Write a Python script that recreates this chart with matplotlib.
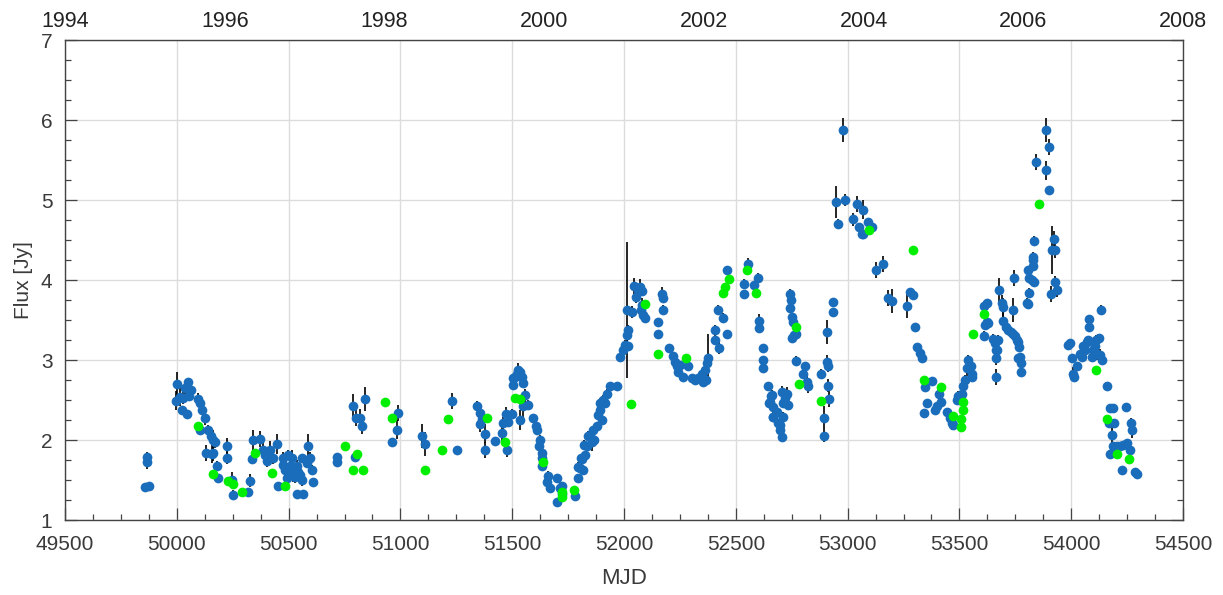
import matplotlib
matplotlib.use("Agg")
import matplotlib.pyplot as plt
from matplotlib.ticker import MultipleLocator
import numpy as np

plt.rcParams['font.family'] = ['Liberation Sans', 'DejaVu Sans']

# blue points: MJD, flux [Jy], error
blue_mjd = [49858, 49877, 49865, 49865,
    49998, 50000, 50014, 50022, 50029, 50037, 50047, 50051, 50056, 50062,
    50096, 50104, 50104, 50111, 50126, 50131, 50141, 50152, 50156, 50163,
    50163, 50171, 50178, 50186, 50223, 50223, 50245, 50253, 50320, 50327,
    50335, 50342, 50372, 50387, 50395, 50402, 50417, 50432, 50447, 50454,
    50474, 50474, 50484, 50492, 50499, 50506, 50514, 50521, 50529, 50536,
    50536, 50543, 50551, 50559, 50559, 50566, 50581, 50588, 50596, 50603,
    50610, 50715, 50715, 50789, 50797, 50801, 50819, 50827, 50842, 50961,
    50983, 50991, 51095, 51110, 51229, 51252, 51341, 51356, 51363, 51356,
    51378, 51378, 51423, 51453, 51460, 51472, 51475, 51483, 51498, 51502,
    51505, 51513, 51520, 51527, 51535, 51542, 51550, 51535, 51547, 51557,
    51572, 51594, 51606, 51612, 51621, 51624, 51632, 51632, 51632, 51654,
    51661, 51669, 51699, 51699, 51714, 51721, 51721, 51781, 51796, 51796,
    51803, 51806, 51811, 51815, 51821, 51826, 51833, 51840, 51848, 51855,
    51860, 51866, 51878, 51885, 51893, 51893, 51900, 51900, 51907, 51915,
    51922, 51937, 51967, 51982, 51994, 52004, 52012, 52012, 52019, 52019,
    52034, 52046, 52053, 52064, 52072, 52075, 52079, 52079, 52086, 52094,
    52153, 52153, 52168, 52173, 52176, 52202, 52220, 52228, 52235, 52243,
    52250, 52265, 52288, 52302, 52317, 52332, 52347, 52354, 52362, 52367,
    52369, 52377, 52405, 52408, 52420, 52423, 52441, 52461, 52461, 52537,
    52537, 52556, 52581, 52601, 52605, 52605, 52620, 52620, 52623, 52645,
    52650, 52653, 52656, 52660, 52665, 52668, 52668, 52683, 52690, 52698,
    52698, 52705, 52705, 52712, 52712, 52720, 52727, 52735, 52742, 52745,
    52742, 52750, 52750, 52757, 52760, 52769, 52769, 52799, 52809, 52817,
    52824, 52880, 52894, 52894, 52906, 52909, 52911, 52914, 52918, 52933,
    52936, 52948, 52958, 52978, 52988, 53023, 53043, 53052, 53063, 53067,
    53070, 53093, 53108, 53127, 53157, 53182, 53197, 53267, 53279, 53291,
    53301, 53312, 53324, 53331, 53342, 53346, 53356, 53376, 53391, 53401,
    53410, 53416, 53443, 53458, 53465, 53473, 53488, 53495, 53510, 53518,
    53525, 53532, 53540, 53550, 53555, 53555, 53610, 53610, 53614, 53622,
    53625, 53629, 53652, 53659, 53664, 53664, 53664, 53669, 53674, 53678,
    53689, 53693, 53693, 53708, 53719, 53729, 53738, 53738, 53744, 53748,
    53756, 53763, 53763, 53768, 53771, 53774, 53774, 53804, 53808, 53808,
    53813, 53813, 53823, 53828, 53828, 53828, 53834, 53835, 53843, 53887,
    53887, 53902, 53902, 53908, 53913, 53923, 53928, 53928, 53938,
    53987, 53995, 54002, 54007, 54013, 54025, 54039, 54047, 54054, 54062,
    54069, 54077, 54081, 54081, 54092, 54099, 54106, 54111, 54117, 54126,
    54129, 54132, 54137, 54162, 54170, 54173, 54173, 54181, 54185, 54185,
    54191, 54203, 54218, 54226, 54233, 54245, 54251, 54263, 54266, 54271,
    54285, 54293]
blue_flux = [1.41, 1.43, 1.79, 1.72,
    2.49, 2.70, 2.54, 2.37, 2.53, 2.65, 2.33, 2.72, 2.55, 2.63,
    2.51, 2.46, 2.12, 2.37, 2.27, 1.84, 2.13, 2.05, 1.83, 2.00,
    1.84, 1.98, 1.68, 1.52, 1.93, 1.78, 1.50, 1.31, 1.35, 1.49,
    1.76, 2.00, 2.01, 1.88, 1.81, 1.74, 1.87, 1.78, 1.95, 1.42,
    1.77, 1.69, 1.63, 1.52, 1.81, 1.67, 1.77, 1.58, 1.54, 1.67,
    1.33, 1.60, 1.56, 1.50, 1.77, 1.33, 1.71, 1.92, 1.77, 1.63,
    1.47, 1.79, 1.73, 2.43, 1.79, 2.28, 2.27, 2.18, 2.51, 1.97,
    2.13, 2.34, 2.05, 1.95, 2.49, 1.87, 2.43, 2.34, 2.26, 2.20,
    2.08, 1.87, 1.99, 2.09, 2.21, 2.33, 1.87, 2.23, 2.33, 2.77,
    2.69, 2.79, 2.83, 2.88, 2.85, 2.79, 2.71, 2.25, 2.42, 2.56,
    2.44, 2.28, 2.18, 2.12, 1.93, 2.00, 1.84, 1.77, 1.67, 1.48,
    1.55, 1.40, 1.52, 1.23, 1.40, 1.42, 1.33, 1.30, 1.53, 1.66,
    1.65, 1.77, 1.76, 1.63, 1.94, 1.81, 1.92, 2.05, 2.06, 1.98,
    2.12, 2.00, 2.17, 2.31, 2.37, 2.46, 2.25, 2.48, 2.50, 2.46,
    2.58, 2.67, 2.68, 3.04, 3.13, 3.19, 3.31, 3.62, 3.38, 3.17,
    3.60, 3.93, 3.79, 3.88, 3.91, 3.62, 3.86, 3.69, 3.56, 3.52,
    3.48, 3.33, 3.83, 3.63, 3.77, 3.15, 3.05, 2.98, 2.92, 2.85,
    2.94, 2.79, 2.92, 2.77, 2.75, 2.77, 2.83, 2.73, 2.88, 2.75,
    2.96, 3.02, 3.38, 3.25, 3.63, 3.15, 3.53, 3.33, 4.12, 3.95,
    3.83, 4.20, 3.94, 4.03, 3.49, 3.40, 3.15, 3.00, 2.90, 2.68,
    2.46, 2.47, 2.55, 2.56, 2.29, 2.41, 2.29, 2.35, 2.21, 2.12,
    2.19, 2.04, 2.60, 2.46, 2.29, 2.52, 2.58, 2.44, 3.83, 3.75,
    3.65, 3.54, 3.27, 3.48, 3.31, 3.33, 2.99, 2.83, 2.92, 2.73,
    2.67, 2.83, 2.28, 2.05, 3.35, 2.98, 2.68, 2.93, 2.51, 3.72,
    3.60, 4.97, 4.70, 5.87, 5.00, 4.76, 4.95, 4.66, 4.58, 4.88,
    4.57, 4.72, 4.66, 4.13, 4.20, 3.78, 3.74, 3.68, 3.85, 3.81,
    3.41, 3.16, 3.09, 3.03, 2.34, 2.66, 2.46, 2.74, 2.37, 2.42,
    2.58, 2.47, 2.35, 2.27, 2.21, 2.19, 2.50, 2.55, 2.58, 2.67,
    2.75, 2.90, 3.00, 2.92, 2.83, 2.79, 3.68, 3.30, 3.44, 3.47,
    3.71, 3.46, 3.26, 3.21, 3.12, 3.02, 2.79, 3.13, 3.25, 3.87,
    3.71, 3.66, 3.49, 3.41, 3.38, 3.35, 3.63, 3.33, 4.03, 3.30,
    3.25, 3.23, 3.02, 3.16, 3.04, 2.96, 2.85, 3.71, 3.70, 4.13,
    3.84, 4.02, 4.00, 4.25, 4.17, 4.29, 3.98, 4.49, 5.47, 5.88,
    5.37, 5.66, 5.12, 3.83, 4.38, 4.51, 4.37, 3.97, 3.87,
    3.19, 3.21, 3.02, 2.83, 2.79, 2.92, 3.08, 3.04, 3.17, 3.13,
    3.23, 3.25, 3.51, 3.41, 3.04, 3.13, 3.17, 3.25, 3.08, 3.27,
    3.06, 3.63, 3.00, 2.67, 2.21, 2.40, 1.83, 2.06, 2.40, 1.92,
    2.21, 1.92, 1.93, 1.63, 1.94, 2.41, 1.96, 1.88, 2.21, 2.13,
    1.60, 1.58]
blue_err = [0.03, 0.03, 0.06, 0.08,
    0.12, 0.15, 0.12, 0.06, 0.08, 0.08, 0.05, 0.06, 0.06, 0.05,
    0.08, 0.06, 0.05, 0.06, 0.08, 0.10, 0.06, 0.10, 0.12, 0.12,
    0.10, 0.08, 0.06, 0.05, 0.10, 0.08, 0.10, 0.06, 0.03, 0.08,
    0.06, 0.12, 0.10, 0.10, 0.10, 0.08, 0.12, 0.08, 0.12, 0.03,
    0.08, 0.10, 0.10, 0.08, 0.06, 0.10, 0.10, 0.10, 0.08, 0.08,
    0.04, 0.08, 0.10, 0.08, 0.06, 0.03, 0.06, 0.15, 0.08, 0.06,
    0.05, 0.05, 0.05, 0.15, 0.06, 0.10, 0.12, 0.10, 0.15, 0.05,
    0.12, 0.10, 0.15, 0.15, 0.10, 0.05, 0.06, 0.10, 0.10, 0.10,
    0.12, 0.10, 0.04, 0.10, 0.08, 0.08, 0.08, 0.06, 0.06, 0.06,
    0.06, 0.08, 0.06, 0.08, 0.06, 0.08, 0.06, 0.12, 0.15, 0.08,
    0.06, 0.05, 0.06, 0.06, 0.05, 0.06, 0.05, 0.05, 0.05, 0.05,
    0.06, 0.05, 0.04, 0.05, 0.08, 0.05, 0.05, 0.06, 0.05, 0.06,
    0.05, 0.06, 0.05, 0.05, 0.06, 0.05, 0.06, 0.06, 0.08, 0.12,
    0.06, 0.06, 0.06, 0.06, 0.05, 0.06, 0.06, 0.05, 0.06, 0.05,
    0.06, 0.06, 0.05, 0.05, 0.06, 0.06, 0.08, 0.85, 0.06, 0.06,
    0.08, 0.10, 0.08, 0.06, 0.10, 0.06, 0.06, 0.08, 0.08, 0.06,
    0.05, 0.05, 0.08, 0.06, 0.06, 0.04, 0.05, 0.06, 0.05, 0.06,
    0.05, 0.05, 0.05, 0.05, 0.04, 0.05, 0.05, 0.05, 0.06, 0.05,
    0.10, 0.30, 0.06, 0.06, 0.06, 0.08, 0.06, 0.05, 0.06, 0.06,
    0.05, 0.08, 0.05, 0.06, 0.08, 0.06, 0.05, 0.05, 0.05, 0.05,
    0.05, 0.05, 0.05, 0.06, 0.05, 0.05, 0.06, 0.06, 0.05, 0.06,
    0.05, 0.05, 0.08, 0.06, 0.06, 0.06, 0.08, 0.06, 0.06, 0.05,
    0.06, 0.05, 0.05, 0.05, 0.08, 0.05, 0.06, 0.05, 0.05, 0.08,
    0.08, 0.06, 0.15, 0.08, 0.15, 0.08, 0.08, 0.08, 0.10, 0.05,
    0.05, 0.20, 0.06, 0.15, 0.08, 0.08, 0.10, 0.05, 0.05, 0.12,
    0.05, 0.06, 0.05, 0.10, 0.10, 0.10, 0.15, 0.15, 0.05, 0.05,
    0.04, 0.04, 0.04, 0.04, 0.04, 0.06, 0.04, 0.04, 0.04, 0.05,
    0.06, 0.04, 0.04, 0.05, 0.08, 0.06, 0.06, 0.06, 0.08, 0.10,
    0.06, 0.10, 0.06, 0.10, 0.08, 0.06, 0.06, 0.06, 0.05, 0.05,
    0.05, 0.05, 0.06, 0.06, 0.06, 0.08, 0.10, 0.08, 0.06, 0.15,
    0.10, 0.12, 0.12, 0.08, 0.06, 0.05, 0.15, 0.05, 0.10, 0.05,
    0.05, 0.06, 0.06, 0.05, 0.05, 0.05, 0.05, 0.06, 0.06, 0.05,
    0.06, 0.06, 0.05, 0.06, 0.06, 0.06, 0.06, 0.06, 0.10, 0.15,
    0.12, 0.10, 0.06, 0.10, 0.30, 0.10, 0.10, 0.08, 0.08,
    0.05, 0.05, 0.05, 0.08, 0.06, 0.05, 0.05, 0.05, 0.05, 0.05,
    0.05, 0.05, 0.05, 0.05, 0.05, 0.06, 0.06, 0.06, 0.08, 0.06,
    0.08, 0.06, 0.06, 0.05, 0.05, 0.05, 0.05, 0.12, 0.05, 0.06,
    0.05, 0.05, 0.05, 0.03, 0.05, 0.05, 0.05, 0.05, 0.06, 0.10,
    0.05, 0.05]

# green points (no error bars)
green_mjd = [50096, 50163, 50230, 50253, 50290, 50350, 50424, 50484, 50752,
    50789, 50807, 50834, 50931, 50961, 51110, 51185, 51214, 51386, 51468,
    51513, 51535, 51639, 51721, 51721, 51776, 52031, 52094, 52150, 52277,
    52441, 52450, 52468, 52551, 52590, 52769, 52784, 52880, 53097, 53291,
    53342, 53416, 53473, 53505, 53505, 53514, 53517, 53560, 53610, 53857,
    54111, 54162, 54206, 54260]
green_flux = [2.18, 1.58, 1.49, 1.45, 1.35, 1.84, 1.59, 1.43, 1.93,
    1.63, 1.83, 1.62, 2.47, 2.28, 1.63, 1.88, 2.26, 2.28, 1.97,
    2.53, 2.51, 1.72, 1.35, 1.29, 1.38, 2.45, 3.70, 3.08, 3.03,
    3.84, 3.91, 4.01, 4.12, 3.84, 3.41, 2.70, 2.49, 4.63, 4.38,
    2.75, 2.66, 2.30, 2.26, 2.16, 2.47, 2.38, 3.33, 3.58, 4.95,
    2.87, 2.26, 1.83, 1.76]

years = [1994, 1996, 1998, 2000, 2002, 2004, 2006, 2008]

fig = plt.figure(figsize=(12.23, 5.95), dpi=100)
ax = fig.add_axes([65/1223, 75/595, 1118/1223, 480/595])

ax.errorbar(blue_mjd, blue_flux, yerr=blue_err, fmt='o', color='#1a6dbb',
            ecolor='black', elinewidth=1.2, capsize=0, markersize=7,
            markeredgewidth=0, zorder=3)
ax.plot(green_mjd, green_flux, 'o', color='#00ee00', markersize=7,
        markeredgewidth=0, zorder=4)

ax.set_xlim(49500, 54500)
ax.set_ylim(1, 7)
ax.xaxis.set_major_locator(MultipleLocator(500))
ax.xaxis.set_minor_locator(MultipleLocator(125))
ax.yaxis.set_major_locator(MultipleLocator(1))
ax.yaxis.set_minor_locator(MultipleLocator(0.25))
ax.grid(True, which='major', color='#dcdcdc', linewidth=1.0)
ax.set_axisbelow(True)
ax.tick_params(which='both', direction='in', top=True, right=True,
               colors='#444444', labelcolor='#3a3a3a', labelsize=15, width=0.9)
ax.tick_params(which='major', length=8.5, pad=11)
ax.tick_params(which='minor', length=4.5)
ax.tick_params(axis='y', which='major', pad=9)
for s in ax.spines.values():
    s.set_color('#444444')
    s.set_linewidth(1.0)

ax.set_xlabel('MJD', fontsize=16, color='#3a3a3a', labelpad=10)
ax.set_ylabel('Flux [Jy]', fontsize=15, color='#3a3a3a', labelpad=6)

# year labels on top, spread evenly across the axis
top = ax.twiny()
top.set_xlim(ax.get_xlim())
top.set_xticks(np.linspace(49500, 54500, len(years)))
top.set_xticklabels([str(y) for y in years])
top.tick_params(axis='x', length=0, pad=6, labelsize=15.5, labelcolor='#222222')
for s in top.spines.values():
    s.set_visible(False)

fig.savefig('out.png', dpi=100)
